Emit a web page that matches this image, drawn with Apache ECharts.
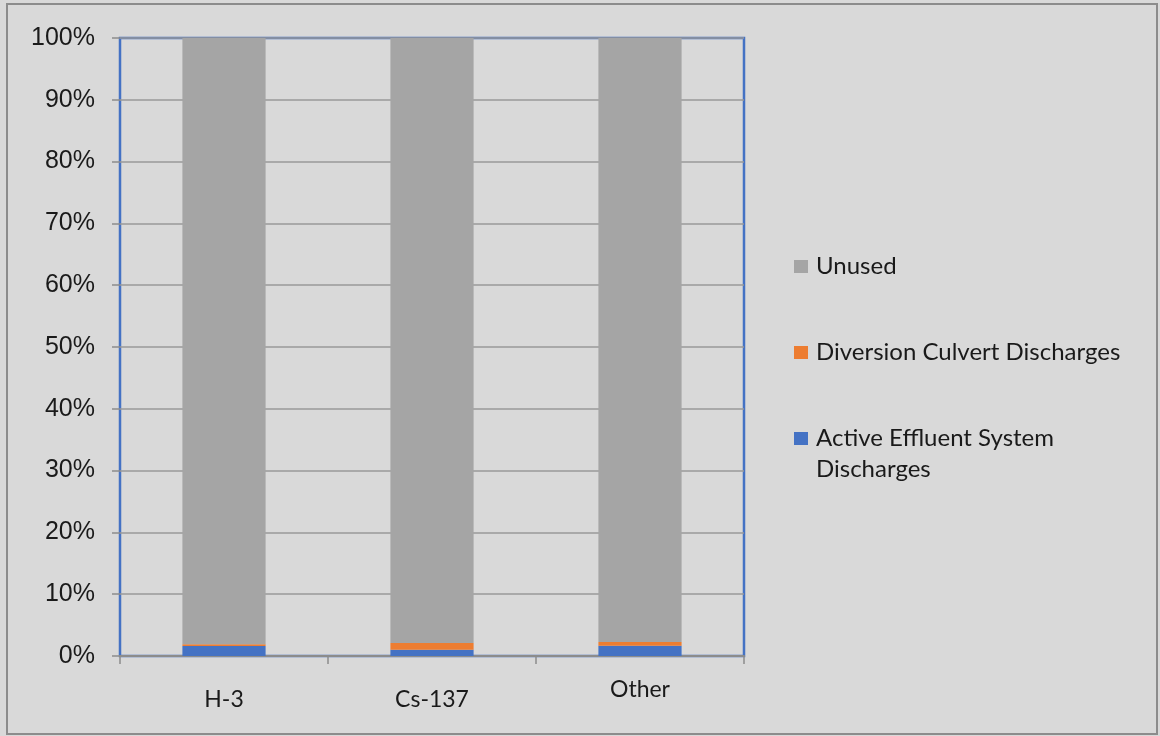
<!DOCTYPE html>
<html>
<head>
<meta charset="utf-8">
<script src="https://cdn.jsdelivr.net/npm/echarts@6/dist/echarts.min.js"></script>
<style>
  html, body { margin: 0; padding: 0; background: #d9d9d9; }
  #chart { width: 1160px; height: 736px; }
</style>
</head>
<body>
<div id="chart"></div>
<script>
var categories = ['H-3', 'Cs-137', 'Other'];
var activeEffluent = [1.6, 1.0, 1.65];
var diversionCulvert = [0.3, 1.1, 0.6];
var unused = [98.1, 97.9, 97.75];
var yTicks = [0, 10, 20, 30, 40, 50, 60, 70, 80, 90, 100];

var secondLine = { 'Active Effluent System': 'Discharges' };

var option = {
  backgroundColor: '#d9d9d9',
  animation: false,
  graphic: [
    {
      type: 'rect',
      shape: { x: 7, y: 4, width: 1150, height: 730 },
      style: { fill: 'none', stroke: '#8c8c8c', lineWidth: 2 },
      z: -1
    },
    {
      type: 'text',
      x: 406,
      y: 1,
      style: {
        text: 'Percentage Usage',
        font: 'bold 33px Lato',
        fill: '#111',
        verticalAlign: 'bottom'
      }
    }
  ],
  grid: {
    left: 120, right: 416, top: 38, bottom: 80,
    show: true,
    borderColor: '#4472c4',
    borderWidth: 2.5,
    backgroundColor: 'transparent'
  },
  legend: {
    orient: 'vertical',
    left: 794,
    top: 220,
    padding: 0,
    itemWidth: 14,
    itemHeight: 13,
    itemGap: -7,
    icon: 'rect',
    data: ['Unused', 'Diversion Culvert Discharges', 'Active Effluent System'],
    formatter: function (name) {
      return ' \n' + name + '\n' + (secondLine[name] || ' ');
    },
    textStyle: {
      fontFamily: 'Lato',
      fontSize: 24,
      lineHeight: 31,
      color: '#1a1a1a',
      padding: [0, 0, 0, 3]
    }
  },
  xAxis: {
    type: 'category',
    data: categories.map(function (c, i) {
      return i < 2 ? { value: c, textStyle: { padding: [10, 0, 0, 0] } } : c;
    }),
    axisLine: { show: true, lineStyle: { color: '#8c8c8c', width: 2 } },
    axisTick: { show: true, length: 8, lineStyle: { color: '#8c8c8c', width: 1.5 } },
    axisLabel: { margin: 22, fontFamily: 'Lato', fontSize: 23, color: '#1a1a1a' }
  },
  yAxis: {
    type: 'value',
    min: 0,
    max: 100,
    interval: 10,
    axisLine: { show: false },
    axisTick: { show: true, length: 8, lineStyle: { color: '#8c8c8c', width: 1.5 } },
    axisLabel: {
      margin: 25,
      fontFamily: 'Liberation Sans',
      fontSize: 25,
      color: '#1a1a1a',
      formatter: function (v) { return yTicks.indexOf(v) >= 0 ? v + '%' : ''; }
    },
    splitLine: { show: true, lineStyle: { color: '#999999', width: 1.5 } }
  },
  series: [
    {
      name: 'Active Effluent System',
      type: 'bar',
      stack: 'total',
      barWidth: '40%',
      itemStyle: { color: '#4472c4' },
      data: activeEffluent
    },
    {
      name: 'Diversion Culvert Discharges',
      type: 'bar',
      stack: 'total',
      itemStyle: { color: '#ed7d31' },
      data: diversionCulvert
    },
    {
      name: 'Unused',
      type: 'bar',
      stack: 'total',
      itemStyle: { color: '#a5a5a5' },
      data: unused
    }
  ]
};

var myChart = echarts.init(document.getElementById('chart'));
myChart.setOption(option);
</script>
</body>
</html>
